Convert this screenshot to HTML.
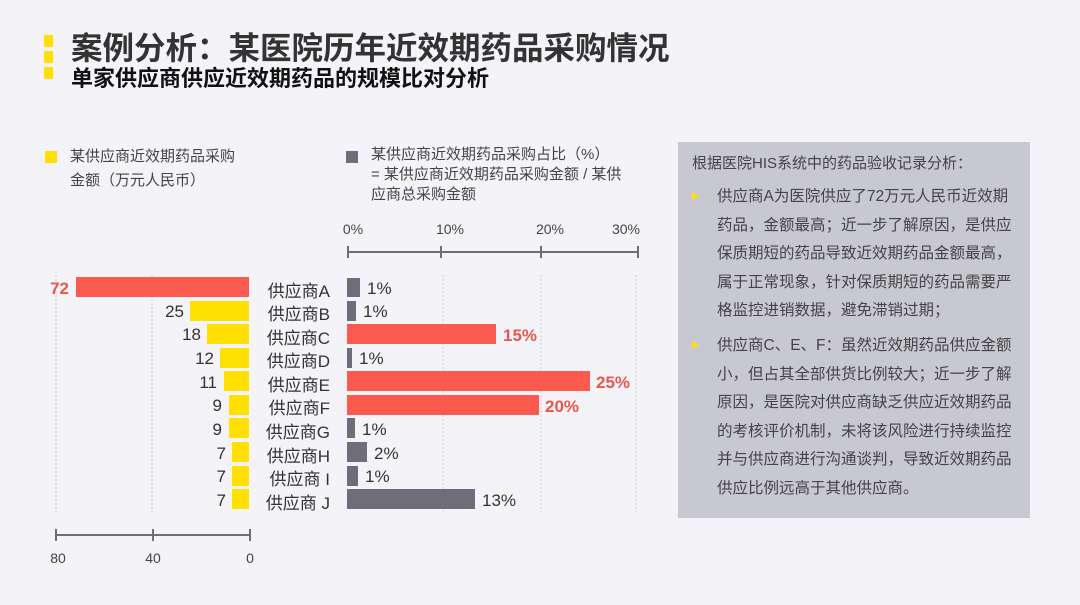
<!DOCTYPE html>
<html><head><meta charset="utf-8"><style>
body{margin:0;width:1080px;height:605px;background:#f4f4f8;overflow:hidden;font-family:"Liberation Sans","Noto Sans CJK SC",sans-serif;position:relative;color:#333}
.a{position:absolute;white-space:nowrap}
</style></head><body>
<div class="a" style="left:44px;top:35px;width:9px;height:12px;background:#ffe000"></div>
<div class="a" style="left:44px;top:51px;width:9px;height:12px;background:#ffe000"></div>
<div class="a" style="left:44px;top:67px;width:9px;height:12px;background:#ffe000"></div>
<div class="a" style="left:71px;top:23px;font-size:31.5px;font-weight:bold;color:#333">案例分析：某医院历年近效期药品采购情况</div>
<div class="a" style="left:71px;top:61px;font-size:22px;font-weight:bold;color:#111">单家供应商供应近效期药品的规模比对分析</div>

<div class="a" style="left:45px;top:151px;width:12px;height:12px;background:#ffe000"></div>
<div class="a" style="left:70px;top:145px;font-size:15px;line-height:24px;color:#444">某供应商近效期药品采购<br>金额（万元人民币）</div>
<div class="a" style="left:346px;top:151px;width:12px;height:12px;background:#6f6e78"></div>
<div class="a" style="left:371px;top:145px;font-size:15px;line-height:20px;color:#444">某供应商近效期药品采购占比（%）<br>= 某供应商近效期药品采购金额 / 某供<br><span style="line-height:14px">应商总采购金额</span></div>

<svg class="a" style="left:0;top:0" width="680" height="605" font-family="Liberation Sans, Noto Sans CJK SC, sans-serif">
<g stroke="#ccc" stroke-dasharray="2,2"><line x1="56" y1="275" x2="56" y2="512"/><line x1="152" y1="275" x2="152" y2="512"/><line x1="443" y1="275" x2="443" y2="512"/><line x1="541" y1="275" x2="541" y2="512"/><line x1="636" y1="275" x2="636" y2="512"/></g>
<g stroke="#6f6e78" stroke-width="2"><line x1="56" y1="535" x2="250" y2="535"/><line x1="56" y1="529" x2="56" y2="541"/><line x1="153" y1="529" x2="153" y2="541"/><line x1="250" y1="529" x2="250" y2="541"/>
<line x1="348" y1="252" x2="638" y2="252"/><line x1="348" y1="246" x2="348" y2="258"/><line x1="441" y1="246" x2="441" y2="258"/><line x1="541" y1="246" x2="541" y2="258"/><line x1="638" y1="246" x2="638" y2="258"/></g>
<g font-size="14" fill="#444"><text x="58" y="563" text-anchor="middle">80</text><text x="153" y="563" text-anchor="middle">40</text><text x="250" y="563" text-anchor="middle">0</text>
<text x="353" y="234" text-anchor="middle">0%</text><text x="450" y="234" text-anchor="middle">10%</text><text x="550" y="234" text-anchor="middle">20%</text><text x="626" y="234" text-anchor="middle">30%</text></g>
<rect x="76" y="277" width="173" height="20" fill="#fc5a4f"/>
<rect x="190" y="301" width="59" height="20" fill="#ffe000"/>
<rect x="207" y="324" width="42" height="20" fill="#ffe000"/>
<rect x="220" y="348" width="29" height="20" fill="#ffe000"/>
<rect x="224" y="371" width="25" height="20" fill="#ffe000"/>
<rect x="229" y="395" width="20" height="20" fill="#ffe000"/>
<rect x="229" y="418" width="20" height="20" fill="#ffe000"/>
<rect x="232" y="442" width="17" height="20" fill="#ffe000"/>
<rect x="232" y="466" width="17" height="20" fill="#ffe000"/>
<rect x="232" y="489" width="17" height="20" fill="#ffe000"/>
<g font-size="17" fill="#333" text-anchor="end">
<text x="69" y="294" fill="#e8564c" font-weight="bold">72</text>
<text x="184" y="317">25</text><text x="201" y="340">18</text><text x="214" y="364">12</text><text x="217" y="388">11</text><text x="222" y="411">9</text><text x="222" y="435">9</text><text x="226" y="459">7</text><text x="226" y="482">7</text><text x="226" y="506">7</text>
</g>
<g font-size="17" fill="#333" text-anchor="end">
<text x="330" y="297">供应商A</text><text x="330" y="320">供应商B</text><text x="330" y="344">供应商C</text><text x="330" y="367">供应商D</text><text x="330" y="391">供应商E</text><text x="330" y="414">供应商F</text><text x="330" y="438">供应商G</text><text x="330" y="462">供应商H</text><text x="330" y="485">供应商  I</text><text x="330" y="509">供应商 J</text>
</g>
<rect x="347" y="278" width="13" height="19" fill="#6f6e78"/>
<rect x="347" y="301" width="9" height="20" fill="#6f6e78"/>
<rect x="347" y="324" width="149" height="20" fill="#fc5a4f"/>
<rect x="347" y="348" width="5" height="20" fill="#6f6e78"/>
<rect x="347" y="371" width="243" height="20" fill="#fc5a4f"/>
<rect x="347" y="395" width="192" height="20" fill="#fc5a4f"/>
<rect x="347" y="418" width="8" height="20" fill="#6f6e78"/>
<rect x="347" y="442" width="20" height="20" fill="#6f6e78"/>
<rect x="347" y="466" width="11" height="20" fill="#6f6e78"/>
<rect x="347" y="489" width="128" height="20" fill="#6f6e78"/>
<g font-size="17" fill="#333">
<text x="367" y="294">1%</text><text x="363" y="317">1%</text><text x="503" y="341" fill="#e8564c" font-weight="bold">15%</text><text x="359" y="364">1%</text><text x="596" y="388" fill="#e8564c" font-weight="bold">25%</text><text x="545" y="412" fill="#e8564c" font-weight="bold">20%</text><text x="362" y="435">1%</text><text x="374" y="459">2%</text><text x="365" y="482">1%</text><text x="482" y="506">13%</text>
</g>
</svg>

<div class="a" style="left:678px;top:142px;width:352px;height:376px;background:#c8c8d0"></div>
<div class="a" style="left:692px;top:152px;font-size:15px;color:#444">根据医院HIS系统中的药品验收记录分析：</div>
<div class="a" style="left:692px;top:192px;width:0;height:0;border-left:7px solid #ffe000;border-top:4px solid transparent;border-bottom:4px solid transparent"></div>
<div class="a" style="left:692px;top:341px;width:0;height:0;border-left:7px solid #ffe000;border-top:4px solid transparent;border-bottom:4px solid transparent"></div>
<div class="a" style="left:717px;top:183px;font-size:15.5px;line-height:28.5px;color:#444">供应商A为医院供应了72万元人民币近效期<br>药品，金额最高；近一步了解原因，是供应<br>保质期短的药品导致近效期药品金额最高，<br>属于正常现象，针对保质期短的药品需要严<br>格监控进销数据，避免滞销过期；</div>
<div class="a" style="left:717px;top:332px;font-size:15.5px;line-height:28.5px;color:#444">供应商C、E、F：虽然近效期药品供应金额<br>小，但占其全部供货比例较大；近一步了解<br>原因，是医院对供应商缺乏供应近效期药品<br>的考核评价机制，未将该风险进行持续监控<br>并与供应商进行沟通谈判，导致近效期药品<br>供应比例远高于其他供应商。</div>
</body></html>
